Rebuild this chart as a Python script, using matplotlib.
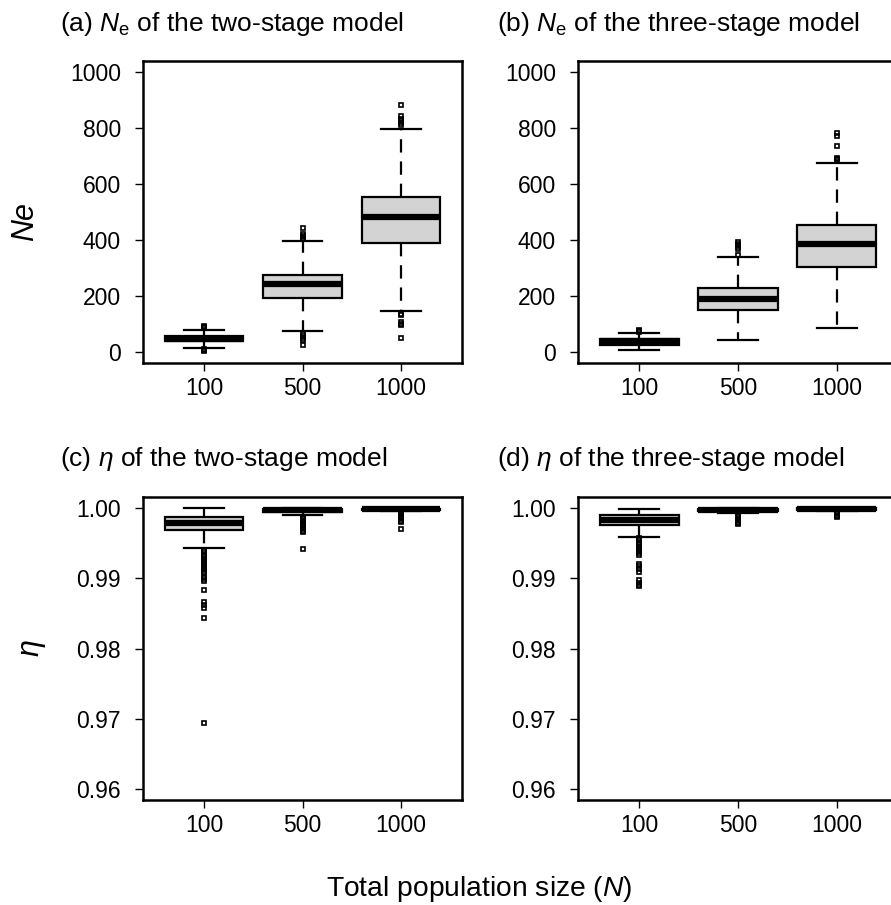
import matplotlib
matplotlib.use('Agg')
import matplotlib.pyplot as plt

plt.rcParams['font.family'] = ['Liberation Sans', 'DejaVu Sans']
plt.rcParams['mathtext.fontset'] = 'custom'
plt.rcParams['mathtext.rm'] = 'Liberation Sans'
plt.rcParams['mathtext.it'] = 'Liberation Sans:italic'
plt.rcParams['mathtext.bf'] = 'Liberation Sans:bold'

# total population size N (x categories)
n_labels = ['100', '500', '1000']

# (a) Ne, two-stage model: box stats
ne2_whislo = [14, 75, 147]
ne2_q1 = [38, 193, 390]
ne2_med = [47, 243, 483]
ne2_q3 = [55, 275, 554]
ne2_whishi = [79, 397, 798]
ne2_fliers = [[86, 90, 93, 10, 6, 3],
              [405, 410, 415, 422, 443, 62, 56, 50, 44, 25],
              [812, 819, 826, 833, 845, 883, 136, 130, 108, 101, 95, 48]]

# (b) Ne, three-stage model
ne3_whislo = [6, 43, 86]
ne3_q1 = [25, 150, 304]
ne3_med = [37, 190, 386]
ne3_q3 = [46, 229, 454]
ne3_whishi = [68, 340, 676]
ne3_fliers = [[72, 75, 79],
              [345, 369, 376, 381, 387, 393],
              [686, 690, 693, 737, 773, 783]]

# (c) eta, two-stage model
eta2_whislo = [0.99433, 0.9990, 0.99955]
eta2_q1 = [0.99688, 0.99945, 0.99975]
eta2_med = [0.99792, 0.9997, 0.99985]
eta2_q3 = [0.99877, 0.99993, 0.99995]
eta2_whishi = [0.99999, 1.0, 1.0]
eta2_fliers = [[0.9940, 0.9937, 0.9934, 0.9931, 0.9928, 0.9925, 0.9922, 0.9919,
                0.9916, 0.9913, 0.9910, 0.9907, 0.9902, 0.9899, 0.9896, 0.9884,
                0.9867, 0.9862, 0.9858, 0.9843, 0.9694],
               [0.9988, 0.9986, 0.9984, 0.9982, 0.9980, 0.9978, 0.9976, 0.9974,
                0.9972, 0.9970, 0.9968, 0.9966, 0.9942],
               [0.9994, 0.9992, 0.9990, 0.9988, 0.9986, 0.9984, 0.9982, 0.9980, 0.9970]]

# (d) eta, three-stage model
eta3_whislo = [0.9959, 0.99925, 0.99965]
eta3_q1 = [0.99759, 0.9996, 0.9998]
eta3_med = [0.99834, 0.9998, 0.9999]
eta3_q3 = [0.99905, 0.99993, 1.0]
eta3_whishi = [0.99986, 1.0, 1.0]
eta3_fliers = [[0.9957, 0.9954, 0.9951, 0.9948, 0.9945, 0.9942, 0.9939, 0.9936,
                0.9933, 0.9921, 0.9917, 0.9913, 0.9909, 0.9897, 0.9894, 0.9891, 0.9889],
               [0.9991, 0.9989, 0.9987, 0.9985, 0.9983, 0.9981, 0.9979, 0.9977],
               [0.9995, 0.9993, 0.9991, 0.9989, 0.9987]]

W, H = 891, 905


def make_stats(lo, q1, med, q3, hi, fl):
    return [dict(whislo=lo[i], q1=q1[i], med=med[i], q3=q3[i], whishi=hi[i],
                 fliers=fl[i], label=n_labels[i]) for i in range(len(n_labels))]


def px_axes(fig, l, t, r, b):
    return fig.add_axes([l / W, 1 - b / H, (r - l) / W, (b - t) / H])


def draw_panel(ax, stats, ylim, yticks, fmt):
    ax.bxp(stats, positions=[1, 2, 3], widths=0.8, capwidths=0.4,
           patch_artist=True, manage_ticks=False,
           boxprops=dict(facecolor='#d3d3d3', edgecolor='black', linewidth=1.6),
           medianprops=dict(color='black', linewidth=4.5, solid_capstyle='butt'),
           whiskerprops=dict(color='black', linewidth=1.6, linestyle=(0, (6, 4))),
           capprops=dict(color='black', linewidth=1.6),
           flierprops=dict(marker='s', markersize=3.3, markerfacecolor='none',
                           markeredgecolor='black', markeredgewidth=1.2, linestyle='none'))
    ax.set_xlim(0.38, 3.62)
    span = ylim[1] - ylim[0]
    ax.set_ylim(ylim[0] - 0.04 * span, ylim[1] + 0.04 * span)
    ax.set_xticks([1, 2, 3])
    ax.set_xticklabels(n_labels)
    ax.set_yticks(yticks)
    ax.set_yticklabels([fmt.format(v) for v in yticks])
    for s in ax.spines.values():
        s.set_linewidth(1.8)
    ax.tick_params(axis='both', labelsize=16.5, length=6, width=1, direction='out')
    ax.tick_params(axis='x', pad=4)
    ax.tick_params(axis='y', pad=10)


fig = plt.figure(figsize=(W / 100, H / 100), dpi=100)

ax_a = px_axes(fig, 143, 61, 462, 363)
ax_b = px_axes(fig, 578, 61, 898, 363)
ax_c = px_axes(fig, 143, 497, 462, 800)
ax_d = px_axes(fig, 578, 497, 898, 800)

ne_ticks = [0, 200, 400, 600, 800, 1000]
eta_ticks = [0.96, 0.97, 0.98, 0.99, 1.00]

draw_panel(ax_a, make_stats(ne2_whislo, ne2_q1, ne2_med, ne2_q3, ne2_whishi, ne2_fliers),
           (0, 1000), ne_ticks, '{:d}')
draw_panel(ax_b, make_stats(ne3_whislo, ne3_q1, ne3_med, ne3_q3, ne3_whishi, ne3_fliers),
           (0, 1000), ne_ticks, '{:d}')
draw_panel(ax_c, make_stats(eta2_whislo, eta2_q1, eta2_med, eta2_q3, eta2_whishi, eta2_fliers),
           (0.96, 1.0), eta_ticks, '{:.2f}')
draw_panel(ax_d, make_stats(eta3_whislo, eta3_q1, eta3_med, eta3_q3, eta3_whishi, eta3_fliers),
           (0.96, 1.0), eta_ticks, '{:.2f}')

# panel titles
fig.text(60 / W, 1 - 31 / H, r'(a) $N_\mathrm{e}$ of the two-stage model', fontsize=19, va='baseline')
fig.text(497 / W, 1 - 31 / H, r'(b) $N_\mathrm{e}$ of the three-stage model', fontsize=19, va='baseline')
fig.text(60 / W, 1 - 466 / H, r'(c) $\eta$ of the two-stage model', fontsize=19, va='baseline')
fig.text(497 / W, 1 - 466 / H, r'(d) $\eta$ of the three-stage model', fontsize=19, va='baseline')

# y labels
fig.text(25 / W, 1 - 221 / H, 'Ne', fontsize=22, style='italic', rotation=90, ha='center', va='center')
fig.text(31 / W, 1 - 648 / H, 'η', fontsize=22, style='italic', rotation=90, ha='center', va='center')

# shared x label
fig.text(479 / W, 1 - 896 / H, r'Total population size ($N$)',
         fontsize=20.3, ha='center', va='baseline')

fig.savefig('out.png', dpi=100)
